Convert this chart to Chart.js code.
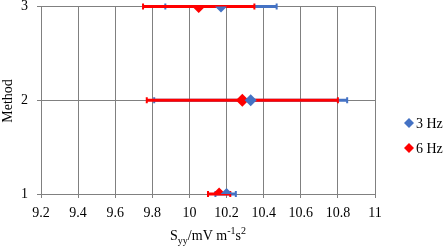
<!DOCTYPE html>
<html>
<head>
<meta charset="utf-8">
<script src="https://cdn.jsdelivr.net/npm/chart.js@4"></script>
<style>
  html, body { margin: 0; padding: 0; background: #fff; }
  #wrap { width: 446px; height: 246px; }
</style>
</head>
<body>
<div id="wrap"><canvas id="chart" width="446" height="246"></canvas></div>
<script>
// ─── data ─────────────────────────────────────────────
const METHODS   = [1, 2, 3]
const HZ3_MEAN  = [10.20, 10.33, 10.17]
const HZ3_LOW   = [10.14, 9.81, 9.87]
const HZ3_HIGH  = [10.25, 10.85, 10.47]
const HZ6_MEAN  = [10.16, 10.285, 10.05]
const HZ6_LOW   = [10.10, 9.77, 9.75]
const HZ6_HIGH  = [10.22, 10.80, 10.35]
const X_MIN = 9.2, X_MAX = 11, X_STEP = 0.2

const BLUE = '#4472C4'
const RED  = '#FF0000'
const FONT = "'Liberation Serif', 'DejaVu Serif', serif"

const pts = (means, lows, highs) => METHODS.map((m, i) => ({ x: means[i], y: m, lo: lows[i], hi: highs[i] }))

// error bars, drawn under the markers via the chart's own scales
const errorBars = {
  id: 'errorBars',
  beforeDatasetsDraw(chart) {
    const { ctx, scales: { x, y } } = chart
    // blue first, red over it
    ;[0, 1].forEach(di => {
      const ds = chart.data.datasets[di]
      ctx.save()
      ctx.strokeStyle = ds.borderColor
      ds.data.forEach(p => {
        const py = y.getPixelForValue(p.y)
        const x0 = x.getPixelForValue(p.lo), x1 = x.getPixelForValue(p.hi)
        ctx.lineWidth = 3
        ctx.beginPath(); ctx.moveTo(x0, py); ctx.lineTo(x1, py); ctx.stroke()
        ctx.lineWidth = 2
        ctx.beginPath()
        ctx.moveTo(x0, py - 3); ctx.lineTo(x0, py + 3)
        ctx.moveTo(x1, py - 3); ctx.lineTo(x1, py + 3)
        ctx.stroke()
      })
      ctx.restore()
    })
  }
}

// axis titles (with sub/superscripts) and right-hand legend
const labels = {
  id: 'labels',
  afterDraw(chart) {
    const { ctx } = chart
    ctx.save()
    ctx.fillStyle = '#000'
    ctx.textBaseline = 'alphabetic'

    // x title: S_yy/mV m^-1 s^2
    const parts = [
      ['S', 14, 0], ['yy', 10, 4], ['/mV m', 14, 0], ['-1', 10, -6], ['s', 14, 0], ['2', 10, -6]
    ]
    let w = 0
    parts.forEach(([t, s]) => { ctx.font = s + 'px ' + FONT; w += ctx.measureText(t).width })
    let cx = 208 - w / 2
    parts.forEach(([t, s, dy]) => {
      ctx.font = s + 'px ' + FONT
      ctx.fillText(t, cx, 240 + dy)
      cx += ctx.measureText(t).width
    })

    // y title
    ctx.font = '14px ' + FONT
    ctx.translate(12, 101)
    ctx.rotate(-Math.PI / 2)
    ctx.textAlign = 'center'
    ctx.fillText('Method', 0, 0)
    ctx.restore()

    // legend
    ctx.save()
    ctx.font = '14px ' + FONT
    ctx.textBaseline = 'middle'
    ;[[BLUE, '3 Hz', 123], [RED, '6 Hz', 148]].forEach(([c, t, ly]) => {
      ctx.fillStyle = c
      ctx.beginPath()
      ctx.moveTo(409, ly - 5); ctx.lineTo(414, ly); ctx.lineTo(409, ly + 5); ctx.lineTo(404, ly)
      ctx.closePath(); ctx.fill()
      ctx.fillStyle = '#000'
      ctx.fillText(t, 416, ly + 1)
    })
    ctx.restore()
  }
}

new Chart(document.getElementById('chart'), {
  type: 'scatter',
  data: {
    datasets: [
      { label: '3 Hz', data: pts(HZ3_MEAN, HZ3_LOW, HZ3_HIGH), borderColor: BLUE, backgroundColor: BLUE,
        pointStyle: 'rectRot', pointRadius: 6, pointBorderWidth: 0, order: 1 },
      { label: '6 Hz', data: pts(HZ6_MEAN, HZ6_LOW, HZ6_HIGH), borderColor: RED, backgroundColor: RED,
        pointStyle: 'rectRot', pointRadius: 6.5, pointBorderWidth: 0, order: 2 },
    ]
  },
  options: {
    responsive: false, animation: false,
    layout: { padding: { top: 6, right: 71, left: 0, bottom: 0 } },
    plugins: { legend: { display: false }, tooltip: { enabled: false } },
    scales: {
      x: {
        type: 'linear', min: X_MIN, max: X_MAX,
        ticks: { stepSize: X_STEP, color: '#000', font: { family: FONT, size: 14 }, padding: 7,
                 callback: v => String(+v.toFixed(1)) },
        grid: { color: '#808080', tickLength: 4, tickColor: '#808080' },
        border: { color: '#808080' },
        afterFit: s => { s.height = 52; s.paddingLeft = 0; s.paddingRight = 0 }
      },
      y: {
        min: 1, max: 3,
        ticks: { stepSize: 1, color: '#000', font: { family: FONT, size: 14 }, padding: 9 },
        grid: { color: '#808080', tickLength: 4, tickColor: '#808080' },
        border: { color: '#808080' },
        afterFit: s => { s.width = 41; s.paddingTop = 0; s.paddingBottom = 0 }
      }
    }
  },
  plugins: [errorBars, labels]
})
</script>
</body>
</html>
